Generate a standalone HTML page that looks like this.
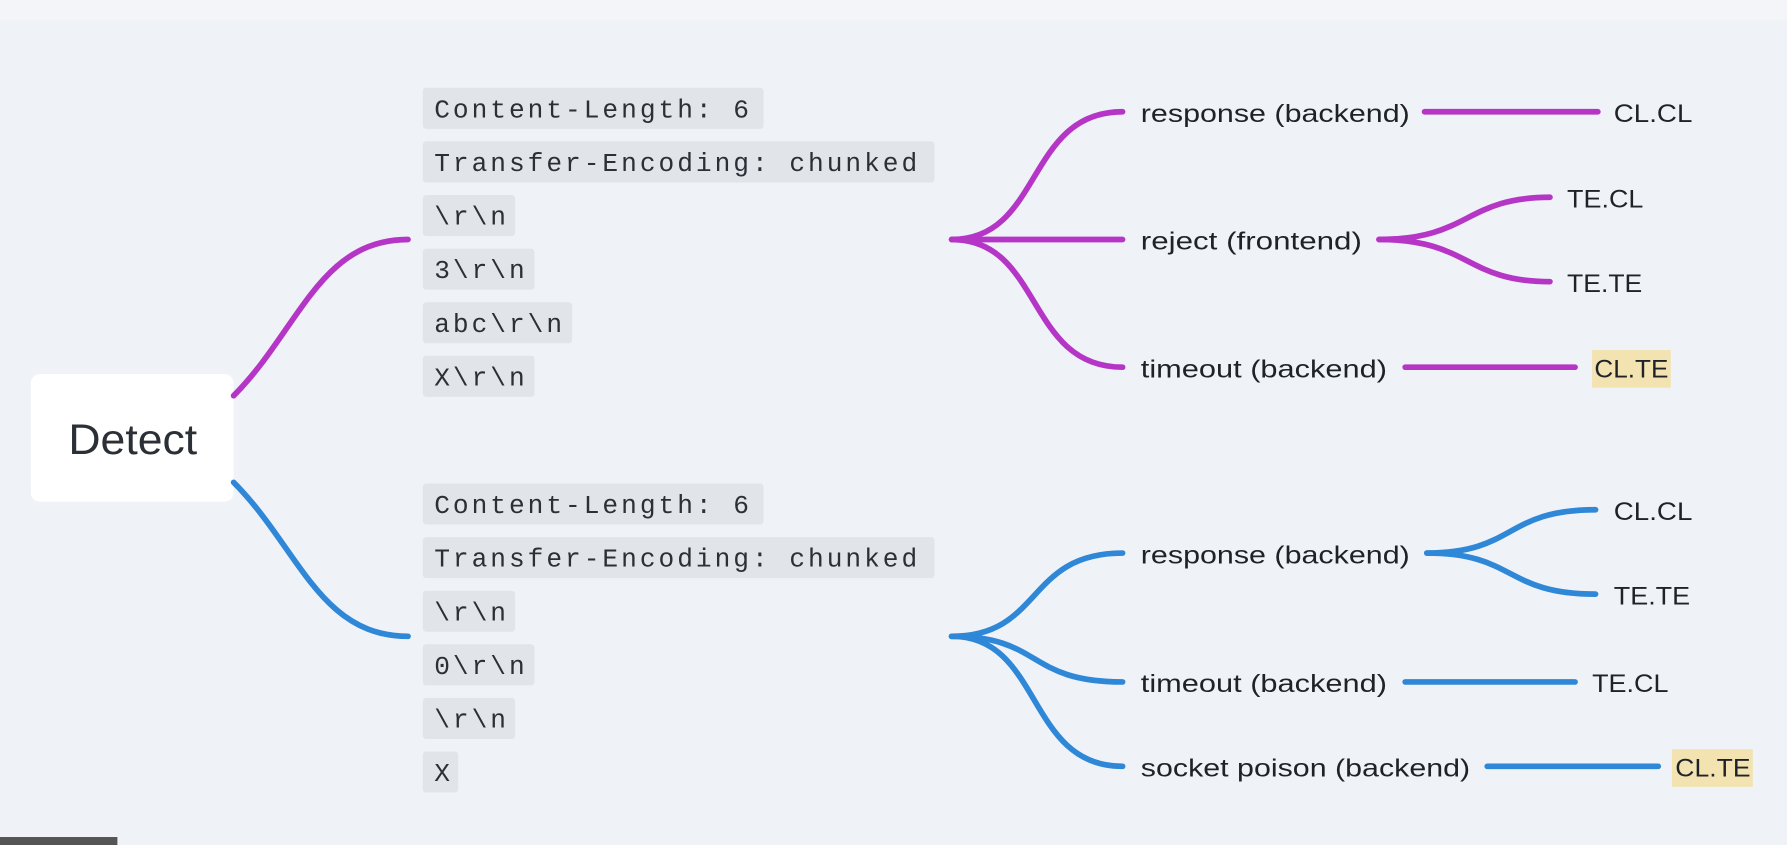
<!DOCTYPE html>
<html><head><meta charset="utf-8"><style>
html,body{margin:0;padding:0;background:#eff2f6;}
svg{display:block}
.m{font-family:"Liberation Mono",monospace;font-size:23px;fill:#2b2f36;letter-spacing:2.6px}
.s{font-family:"Liberation Sans",sans-serif;font-size:22px;fill:#1f2329}
.cb{fill:#e1e5ea}
.p{stroke:#b536c6;stroke-width:5;fill:none;stroke-linecap:round}
.b{stroke:#2f87d8;stroke-width:5;fill:none;stroke-linecap:round}
</style></head><body>
<svg width="1787" height="845" viewBox="0 0 1568 741" preserveAspectRatio="none">
<rect width="1568" height="741" fill="#eff2f6"/>
<rect width="1568" height="18" fill="#f3f5f8"/>
<rect x="0" y="734" width="103" height="7" fill="#555"/>
<rect x="27" y="328" width="178" height="112" rx="8" fill="#fff"/>
<text x="60" y="398" textLength="113" lengthAdjust="spacingAndGlyphs" font-family="Liberation Sans,sans-serif" font-size="37" fill="#2b2f36">Detect</text>
<path class="p" d="M205,347 C262,290 280,210 358,210"/>
<path class="b" d="M205,423 C262,480 280,558 358,558"/>
<rect class="cb" x="371" y="77" width="299" height="36" rx="3"/><text class="m" x="381" y="103">Content-Length: 6</text>
<rect class="cb" x="371" y="124" width="449" height="36" rx="3"/><text class="m" x="381" y="150">Transfer-Encoding: chunked</text>
<rect class="cb" x="371" y="171" width="81" height="36" rx="3"/><text class="m" x="381" y="197">\r\n</text>
<rect class="cb" x="371" y="218" width="98" height="36" rx="3"/><text class="m" x="381" y="244">3\r\n</text>
<rect class="cb" x="371" y="265" width="131" height="36" rx="3"/><text class="m" x="381" y="291">abc\r\n</text>
<rect class="cb" x="371" y="312" width="98" height="36" rx="3"/><text class="m" x="381" y="338">X\r\n</text>
<rect class="cb" x="371" y="424" width="299" height="36" rx="3"/><text class="m" x="381" y="450">Content-Length: 6</text>
<rect class="cb" x="371" y="471" width="449" height="36" rx="3"/><text class="m" x="381" y="497">Transfer-Encoding: chunked</text>
<rect class="cb" x="371" y="518" width="81" height="36" rx="3"/><text class="m" x="381" y="544">\r\n</text>
<rect class="cb" x="371" y="565" width="98" height="36" rx="3"/><text class="m" x="381" y="591">0\r\n</text>
<rect class="cb" x="371" y="612" width="81" height="36" rx="3"/><text class="m" x="381" y="638">\r\n</text>
<rect class="cb" x="371" y="659" width="31" height="36" rx="3"/><text class="m" x="381" y="685">X</text>
<path class="p" d="M835,210 C915,210 900,98 985,98"/>
<path class="p" d="M835,210 L985,210"/>
<path class="p" d="M835,210 C915,210 900,322 985,322"/>
<text class="s" x="1001" y="107" textLength="236" lengthAdjust="spacingAndGlyphs">response (backend)</text>
<path class="p" d="M1250,98 L1402,98"/>
<text class="s" x="1416" y="107" textLength="69" lengthAdjust="spacingAndGlyphs">CL.CL</text>
<text class="s" x="1001" y="219" textLength="194" lengthAdjust="spacingAndGlyphs">reject (frontend)</text>
<path class="p" d="M1210,210 C1290,210 1285,173 1360,173"/>
<path class="p" d="M1210,210 C1290,210 1285,247 1360,247"/>
<text class="s" x="1375" y="182" textLength="67" lengthAdjust="spacingAndGlyphs">TE.CL</text>
<text class="s" x="1375" y="256" textLength="66" lengthAdjust="spacingAndGlyphs">TE.TE</text>
<text class="s" x="1001" y="331" textLength="216" lengthAdjust="spacingAndGlyphs">timeout (backend)</text>
<path class="p" d="M1233,322 L1382,322"/>
<rect x="1397" y="307" width="69" height="33" fill="#f3e3b0"/>
<text class="s" x="1399" y="331" textLength="65" lengthAdjust="spacingAndGlyphs">CL.TE</text>
<path class="b" d="M835,558 C915,558 900,485 985,485"/>
<path class="b" d="M835,558 C915,558 900,598 985,598"/>
<path class="b" d="M835,558 C915,558 900,672 985,672"/>
<text class="s" x="1001" y="494" textLength="236" lengthAdjust="spacingAndGlyphs">response (backend)</text>
<path class="b" d="M1252,485 C1330,485 1320,447 1400,447"/>
<path class="b" d="M1252,485 C1330,485 1320,521 1400,521"/>
<text class="s" x="1416" y="456" textLength="69" lengthAdjust="spacingAndGlyphs">CL.CL</text>
<text class="s" x="1416" y="530" textLength="67" lengthAdjust="spacingAndGlyphs">TE.TE</text>
<text class="s" x="1001" y="607" textLength="216" lengthAdjust="spacingAndGlyphs">timeout (backend)</text>
<path class="b" d="M1233,598 L1382,598"/>
<text class="s" x="1397" y="607" textLength="67" lengthAdjust="spacingAndGlyphs">TE.CL</text>
<text class="s" x="1001" y="681" textLength="289" lengthAdjust="spacingAndGlyphs">socket poison (backend)</text>
<path class="b" d="M1305,672 L1455,672"/>
<rect x="1467" y="657" width="71" height="33" fill="#f3e3b0"/>
<text class="s" x="1470" y="681" textLength="66" lengthAdjust="spacingAndGlyphs">CL.TE</text>
</svg>
</body></html>
